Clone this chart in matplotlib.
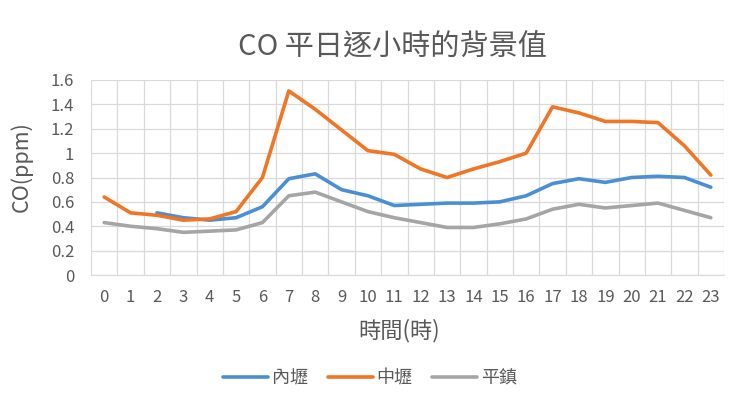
import numpy as np
import matplotlib.pyplot as plt
from matplotlib.ticker import FuncFormatter, MultipleLocator

plt.rcParams["font.family"] = ["Noto Sans CJK TC", "DejaVu Sans"]

hours = list(range(24))
hour_labels = [str(h) for h in hours]

# 內壢 has no data for hours 0 and 1
neili = [np.nan, np.nan, 0.51, 0.47, 0.45, 0.47, 0.56, 0.79, 0.83, 0.70, 0.65, 0.57,
         0.58, 0.59, 0.59, 0.60, 0.65, 0.75, 0.79, 0.76, 0.80, 0.81, 0.80, 0.72]
zhongli = [0.64, 0.51, 0.49, 0.45, 0.46, 0.52, 0.80, 1.51, 1.36, 1.19, 1.02, 0.99,
           0.87, 0.80, 0.87, 0.93, 1.00, 1.38, 1.33, 1.26, 1.26, 1.25, 1.06, 0.82]
pingzhen = [0.43, 0.40, 0.38, 0.35, 0.36, 0.37, 0.43, 0.65, 0.68, 0.60, 0.52, 0.47,
            0.43, 0.39, 0.39, 0.42, 0.46, 0.54, 0.58, 0.55, 0.57, 0.59, 0.53, 0.47]

series = [("內壢", neili, "#4A8FD6"), ("中壢", zhongli, "#F07524"), ("平鎮", pingzhen, "#A5A5A5")]

fig = plt.figure(figsize=(7.34, 3.96), dpi=100)
ax = fig.add_axes([91 / 734, 1 - 275 / 396, 633 / 734, 195 / 396])

for name, vals, col in series:
    ax.plot(hours, vals, color=col, lw=2.6, label=name, solid_capstyle="round")

ax.set_xlim(-0.5, 23.5)
ax.set_ylim(0, 1.6)
ax.yaxis.set_major_locator(MultipleLocator(0.2))
ax.yaxis.set_major_formatter(FuncFormatter(lambda v, p: f"{v:g}"))
ax.set_xticks(hours)
ax.set_xticklabels(hour_labels)
ax.set_xticks(np.arange(-0.5, 24, 1), minor=True)

ax.grid(axis="y", which="major", color="#D9D9D9", lw=0.9)
ax.grid(axis="x", which="minor", color="#D9D9D9", lw=0.9)
ax.set_axisbelow(True)
for s in ["top", "right", "left"]:
    ax.spines[s].set_visible(False)
ax.spines["bottom"].set_color("#D9D9D9")
ax.tick_params(axis="both", which="both", length=0, labelsize=12, colors="#595959")
ax.tick_params(axis="x", pad=10)
ax.tick_params(axis="y", pad=12)

ax.set_ylabel("CO(ppm)", fontsize=15.5, color="#595959")
ax.yaxis.set_label_coords(-0.092, 0.554)
ax.set_xlabel("時間(時)", fontsize=16, color="#595959")
ax.xaxis.set_label_coords(0.487, -0.226)
fig.text(0.534, 0.881, "CO 平日逐小時的背景值", ha="center", va="center",
         fontsize=21, color="#595959")

fig.legend(loc="center", bbox_to_anchor=(0.504, 0.045), ncol=3, frameon=False,
           fontsize=13, handlelength=2.5, columnspacing=1.1, handletextpad=0.2,
           labelcolor="#595959")

fig.savefig("out.png", dpi=100)
